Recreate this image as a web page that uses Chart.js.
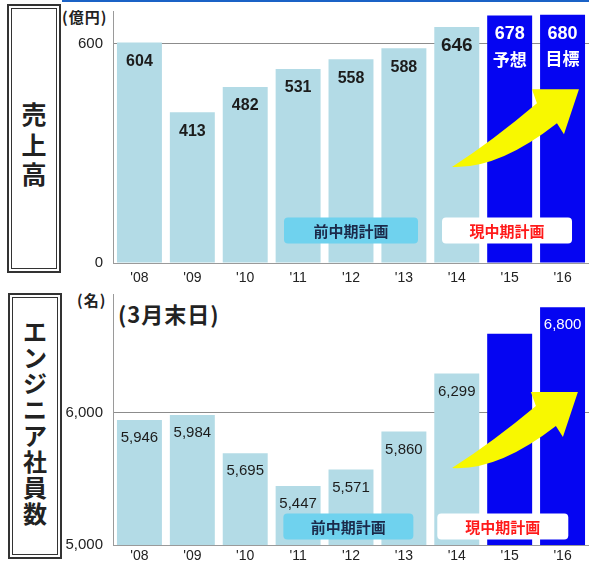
<!DOCTYPE html>
<html>
<head>
<meta charset="utf-8">
<script src="https://cdn.jsdelivr.net/npm/chart.js@4.4.1/dist/chart.umd.min.js"></script>
<style>
  body { margin: 0; background: #fff; width: 589px; height: 567px; position: relative; overflow: hidden; font-family: "Noto Sans CJK JP", sans-serif; color: #222; }
  .topline { position: absolute; left: 62px; top: 0; width: 527px; height: 2px; background: #1a62c6; }
  .side { position: absolute; border: 2px solid #333; box-shadow: inset 0 0 0 2px #fff, inset 0 0 0 3px #333; box-sizing: border-box;
          display: flex; flex-direction: column; align-items: center; justify-content: center; font-weight: bold; }
  .side span { display: block; line-height: 1; }
  .unit { position: absolute; font-size: 15px; font-weight: bold; letter-spacing: 1px; }
  .note { position: absolute; font-size: 22px; font-weight: bold; letter-spacing: 1px; }
  .wrap { position: absolute; left: 60px; }
</style>
</head>
<body>
<div class="topline"></div>

<div class="side" style="left:7px;top:4px;width:54px;height:269px;font-size:25px;padding-top:10px;">
  <span>売</span><span style="margin-top:6px">上</span><span style="margin-top:4px">高</span>
</div>
<div class="side" style="left:8px;top:293px;width:54px;height:266px;font-size:24px;padding-bottom:8px;">
  <span>エ</span><span style="margin-top:2px">ン</span><span style="margin-top:2px">ジ</span><span style="margin-top:2px">ニ</span>
  <span style="margin-top:2px">ア</span><span style="margin-top:2px">社</span><span style="margin-top:2px">員</span><span style="margin-top:2px">数</span>
</div>

<div class="unit" style="left:62px;top:6px;">(億円)</div>
<div class="unit" style="left:77px;top:289px;">(名)</div>
<div class="note" style="left:118px;top:297px;">(3月末日)</div>

<div class="wrap" style="top:0;"><canvas id="sales" width="529" height="290"></canvas></div>
<div class="wrap" style="top:290px;"><canvas id="staff" width="529" height="277"></canvas></div>

<script>
// data
const years = ["'08", "'09", "'10", "'11", "'12", "'13", "'14", "'15", "'16"];
const sales = [604, 413, 482, 531, 558, 588, 646, 678, 680];
const salesNotes = ['', '', '', '', '', '', '', '予想', '目標'];
const salesTicks = [0, 600];
const engineers = [5946, 5984, 5695, 5447, 5571, 5860, 6299, 6600, 6800];
const engineerTicks = [5000, 6000];

const planFrom = 7; // '15 onwards = current plan
const LIGHT = '#b3dbe6';
const BLUE = '#0505f2';
const cjk = '"Noto Sans CJK JP", sans-serif';
const latin = '"Liberation Sans", Arial, sans-serif';

const barColors = years.map((y, i) => i >= planFrom ? BLUE : LIGHT);

// values printed inside the bars
const barText = {
  id: 'barText',
  afterDatasetsDraw(chart, args, o) {
    const ctx = chart.ctx;
    ctx.save();
    ctx.textAlign = 'center';
    ctx.textBaseline = 'middle';
    chart.getDatasetMeta(0).data.forEach((bar, i) => {
      const lines = o.lines[i];
      ctx.fillStyle = i >= planFrom ? '#fff' : '#1c1c1c';
      lines.forEach((t, j) => {
        if (!t) return;
        const size = j > 0 ? o.noteSize : (o.big === i ? o.bigSize : (i >= planFrom ? o.planSize : o.size));
        ctx.font = `${o.weight} ${size}px ${j > 0 ? cjk : latin}`;
        ctx.fillText(t, bar.x, bar.y + o.offset + j * o.gap);
      });
    });
    ctx.restore();
  }
};

// swoosh arrow: sharp tail, curved shaft, head with a flat top edge
function drawArrow(ctx, tx, ty, px, py) {
  const P = (dx, dy) => [px + dx, py + dy];
  const upperNotch = P(-42, 14), headLeft = P(-47, 0), headRight = P(-15, 45), lowerNotch = P(-22, 34);
  const upperCtl = [(tx + upperNotch[0]) / 2 - 1, (ty + upperNotch[1]) / 2 + 5];
  const lowerCtl = [(tx + lowerNotch[0]) / 2 - 6, (ty + lowerNotch[1]) / 2 + 24];
  ctx.beginPath();
  ctx.moveTo(tx, ty);
  ctx.quadraticCurveTo(upperCtl[0], upperCtl[1], upperNotch[0], upperNotch[1]);
  ctx.lineTo(headLeft[0], headLeft[1]);
  ctx.lineTo(px, py);
  ctx.lineTo(headRight[0], headRight[1]);
  ctx.lineTo(lowerNotch[0], lowerNotch[1]);
  ctx.quadraticCurveTo(lowerCtl[0], lowerCtl[1], tx, ty);
  ctx.closePath();
  ctx.fillStyle = '#f8f800';
  ctx.fill();
}

// arrow and the two plan boxes
const decor = {
  id: 'decor',
  afterDatasetsDraw(chart, args, o) {
    const ctx = chart.ctx, x = chart.scales.x, y = chart.scales.y;
    ctx.save();
    drawArrow(ctx,
      x.getPixelForValue(o.arrow[0]), y.getPixelForValue(o.arrow[1]),
      x.getPixelForValue(o.arrow[2]), y.getPixelForValue(o.arrow[3]));
    o.boxes.forEach(b => {
      const cx = x.getPixelForValue(b.at), cy = y.getPixelForValue(b.level);
      const w = b.w, h = 26;
      ctx.beginPath();
      ctx.roundRect(cx - w / 2, cy - h / 2, w, h, 4);
      ctx.fillStyle = b.fill;
      ctx.fill();
      ctx.fillStyle = b.color;
      ctx.font = `bold 15px ${cjk}`;
      ctx.textAlign = 'center';
      ctx.textBaseline = 'middle';
      ctx.fillText(b.text, cx, cy + 1);
    });
    ctx.restore();
  }
};

function baseOptions(cfg) {
  return {
    responsive: false,
    animation: false,
    layout: { padding: { top: cfg.padTop, left: 0, right: 0, bottom: 0 } },
    plugins: {
      legend: { display: false },
      tooltip: { enabled: false },
      barText: cfg.text,
      decor: cfg.decor
    },
    scales: {
      x: {
        grid: { display: false, drawTicks: false, tickLength: 0 },
        border: { color: '#9a9a9a' },
        ticks: { color: '#222', font: { family: latin, size: 14 }, padding: cfg.xPad },
        afterFit: s => { s.height = cfg.xHeight; s.paddingLeft = 0; s.paddingRight = 0; }
      },
      y: {
        min: cfg.min,
        max: cfg.max,
        afterBuildTicks: s => { s.ticks = cfg.ticks.map(v => ({ value: v })); },
        grid: {
          drawTicks: false,
          color: c => (c.tick && c.tick.value === cfg.ticks[1]) ? '#8c8c8c' : 'rgba(0,0,0,0)'
        },
        border: { color: '#9a9a9a' },
        ticks: { color: '#222', padding: 10, font: { family: latin, size: 15 },
                 callback: v => v.toLocaleString('en-US') },
        afterFit: s => { s.width = 53; s.paddingTop = 0; s.paddingBottom = 0; }
      }
    }
  };
}

new Chart(document.getElementById('sales'), {
  type: 'bar',
  data: {
    labels: years,
    datasets: [{ data: sales, backgroundColor: barColors, barPercentage: 0.85, categoryPercentage: 1 }]
  },
  options: baseOptions({
    padTop: 11, min: 0, max: 690, ticks: salesTicks, xHeight: 27, xPad: 7,
    text: {
      lines: sales.map((v, i) => [String(v), salesNotes[i]]),
      size: 16, bigSize: 19, big: 6, planSize: 18, noteSize: 17, weight: 'bold', offset: 19, gap: 25
    },
    decor: {
      arrow: [5.91, 263, 8.31, 476],
      boxes: [
        { text: '前中期計画', at: 4, level: 89, w: 134, fill: '#6fd2ee', color: '#1b2a4a' },
        { text: '現中期計画', at: 6.95, level: 89, w: 130, fill: '#ffffff', color: '#ff1a1a' }
      ]
    }
  }),
  plugins: [barText, decor]
});

new Chart(document.getElementById('staff'), {
  type: 'bar',
  data: {
    labels: years,
    datasets: [{ data: engineers, backgroundColor: barColors, barPercentage: 0.85, categoryPercentage: 1 }]
  },
  options: baseOptions({
    padTop: 4, min: 5000, max: 6900, ticks: engineerTicks, xHeight: 22, xPad: 3,
    text: {
      lines: engineers.map((v, i) => [i === 7 ? '' : v.toLocaleString('en-US')]),
      size: 15, bigSize: 15, big: -1, planSize: 15, noteSize: 15, weight: 'normal', offset: 18, gap: 0
    },
    decor: {
      arrow: [5.91, 5583, 8.29, 6158],
      boxes: [
        { text: '前中期計画', at: 3.95, level: 5140, w: 130, fill: '#6fd2ee', color: '#1b2a4a' },
        { text: '現中期計画', at: 6.87, level: 5140, w: 131, fill: '#ffffff', color: '#ff1a1a' }
      ]
    }
  }),
  plugins: [barText, decor]
});
</script>
</body>
</html>
